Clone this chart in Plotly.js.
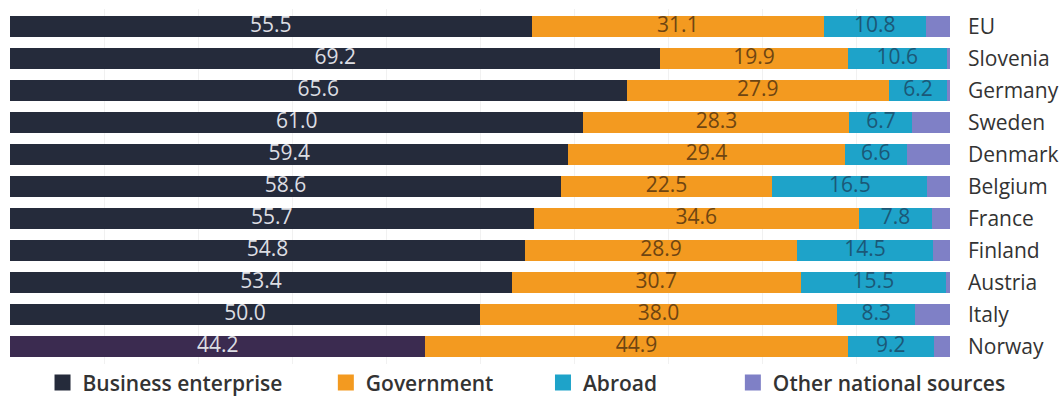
<!DOCTYPE html>
<html>
<head>
<meta charset="utf-8">
<script src="https://cdn.plot.ly/plotly-3.0.1.min.js"></script>
<style>html,body{margin:0;padding:0;background:#fff;}#chart{width:1064px;height:396px;}</style>
</head>
<body>
<div id="chart"></div>
<script>
const countries = ["EU","Slovenia","Germany","Sweden","Denmark","Belgium","France","Finland","Austria","Italy","Norway"];
const business  = [55.5, 69.2, 65.6, 61.0, 59.4, 58.6, 55.7, 54.8, 53.4, 50.0, 44.2];
const government= [31.1, 19.9, 27.9, 28.3, 29.4, 22.5, 34.6, 28.9, 30.7, 38.0, 44.9];
const abroad    = [10.8, 10.6, 6.2, 6.7, 6.6, 16.5, 7.8, 14.5, 15.5, 8.3, 9.2];
const other     = [2.6, 0.3, 0.3, 4.0, 4.6, 2.4, 1.9, 1.8, 0.4, 3.7, 1.7];
const seriesNames = ["Business enterprise","Government","Abroad","Other national sources"];

const FONT = "Open Sans, Noto Sans, sans-serif";
const fmt = a => a.map(v => v.toFixed(1));
const busColors = countries.map(c => c === "Norway" ? "#3b2b50" : "#252b3b");
const colors = ["#252b3b", "#f39a20", "#1ea3c9", "#7f80c6"];
const series = [business, government, abroad, other];
const labelColors = ["#dcdde2", "#6e4512", "#1b5877", null];

const data = [];
// stacked bars
series.forEach((vals, i) => {
  data.push({
    type: "bar", orientation: "h", name: seriesNames[i],
    x: vals, y: countries,
    marker: {color: i === 0 ? busColors : colors[i], line: {width: 0}},
    textposition: "none",
    hoverinfo: "none",
    showlegend: false
  });
});
// value labels centred in each segment (positions via data-space midpoints)
let base = countries.map(() => 0);
series.forEach((vals, i) => {
  const mids = vals.map((v, k) => base[k] + v / 2);
  if (labelColors[i]) {
    data.push({
      type: "scatter", mode: "text", x: mids, y: countries,
      text: fmt(vals), textposition: "middle center",
      textfont: {family: FONT, size: 21, color: labelColors[i]},
      hoverinfo: "none", showlegend: false
    });
  }
  base = base.map((b, k) => b + vals[k]);
});
// legend entries
const legIds = ["legend", "legend2", "legend3", "legend4"];
seriesNames.forEach((n, i) => {
  data.push({
    type: "scatter", mode: "markers", name: n, x: [null], y: [null],
    marker: {symbol: "square", size: 16, color: colors[i]},
    showlegend: true, legend: legIds[i], hoverinfo: "none"
  });
});

const legFont = {family: FONT, size: 21, color: "#333", weight: 600};
function leg(x) {
  return {x: x, y: 0.033, xref: "paper", yref: "container", xanchor: "left", yanchor: "middle",
          orientation: "h", font: legFont, bgcolor: "rgba(0,0,0,0)", itemwidth: 30, itemsizing: "trace"};
}

const layout = {
  width: 1064, height: 396,
  margin: {l: 10, r: 114, t: 9, b: 32, autoexpand: false},
  barmode: "stack",
  bargap: 0.33,
  showlegend: true,
  paper_bgcolor: "#fff", plot_bgcolor: "#fff",
  font: {family: FONT, color: "#333"},
  xaxis: {range: [0, 100], showticklabels: false, showgrid: true, gridcolor: "#f1f1f1",
          dtick: 10, zeroline: false, showline: false, fixedrange: true},
  yaxis: {autorange: "reversed", side: "right", ticks: "", showline: false, showgrid: false,
          tickfont: {family: FONT, size: 21, color: "#333"}, ticklabelstandoff: 17},
  legend: leg(0.0346),
  legend2: leg(0.336),
  legend3: leg(0.567),
  legend4: leg(0.769)
};

Plotly.newPlot("chart", data, layout, {displayModeBar: false, staticPlot: true});
</script>
</body>
</html>
